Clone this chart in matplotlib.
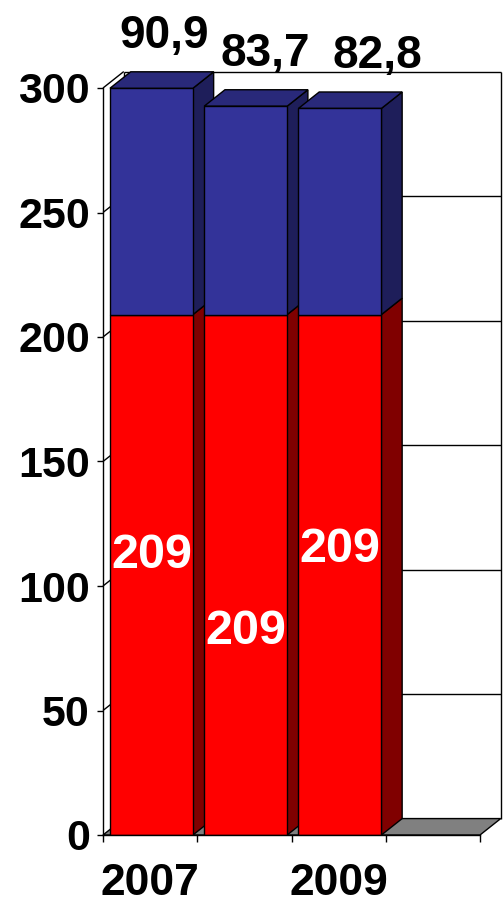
import matplotlib
matplotlib.use("Agg")
import matplotlib.pyplot as plt
from matplotlib.patches import Polygon

plt.rcParams["font.family"] = ["Liberation Sans", "DejaVu Sans"]
plt.rcParams["font.weight"] = "bold"

# data
years = ["2007", "2008", "2009"]
base = [209, 209, 209]
extra = [90.9, 83.7, 82.8]
extra_labels = ["90,9", "83,7", "82,8"]
yticks = [0, 50, 100, 150, 200, 250, 300]

# look
RED, RED_SIDE = "#ff0000", "#800000"
BLUE, BLUE_TOP, BLUE_SIDE = "#333399", "#29297a", "#1e1e5a"
DX, DY = 0.22, 6.6          # 3D depth in data units
X0, W = 0.074, 0.88         # bar start within slot, bar width
NSLOT = 4

fig = plt.figure(figsize=(5.04, 9.08), dpi=100)
ax = fig.add_axes([103 / 504, 73 / 908, 377 / 504, 747 / 908])
ax.set_xlim(0, NSLOT)
ax.set_ylim(0, 300)
ax.patch.set_visible(False)
for s in ("top", "right"):
    ax.spines[s].set_visible(False)
for s in ("left", "bottom"):
    ax.spines[s].set_linewidth(1.0)
    ax.spines[s].set_zorder(20)


def poly(pts, fc, z, ec="black", lw=1.0):
    ax.add_patch(Polygon(pts, closed=True, facecolor=fc, edgecolor=ec,
                         linewidth=lw, zorder=z, clip_on=False))


def line(xs, ys, z=1):
    ax.plot(xs, ys, color="black", lw=1.0, zorder=z, clip_on=False,
            solid_capstyle="butt")


# back wall, gridlines, floor
poly([(DX, DY), (NSLOT + DX, DY), (NSLOT + DX, 300 + DY), (DX, 300 + DY)],
     "white", 0.5, ec="none")
for v in yticks[1:]:
    line([DX, NSLOT + DX], [v + DY, v + DY])
    line([0, DX], [v, v + DY])
line([NSLOT + DX, NSLOT + DX], [DY, 300 + DY])
line([DX, DX], [DY, 300 + DY])
poly([(0, 0), (NSLOT, 0), (NSLOT + DX, DY), (DX, DY)], "#808080", 1.5)

# bars
for i, (b, e) in enumerate(zip(base, extra)):
    z = 3 + i
    x0 = i + X0
    x1 = x0 + W
    top = b + e
    # side faces
    poly([(x1, 0), (x1 + DX, DY), (x1 + DX, b + DY), (x1, b)], RED_SIDE, z)
    poly([(x1, b), (x1 + DX, b + DY), (x1 + DX, top + DY), (x1, top)], BLUE_SIDE, z)
    # top face
    poly([(x0, top), (x1, top), (x1 + DX, top + DY), (x0 + DX, top + DY)], BLUE_TOP, z)
    # front faces
    ax.bar(x0, b, width=W, align="edge", color=RED, edgecolor="black",
           linewidth=1.0, zorder=z + 0.1)
    ax.bar(x0, e, bottom=b, width=W, align="edge", color=BLUE,
           edgecolor="black", linewidth=1.0, zorder=z + 0.1)

# labels of the top segment (Excel nudges them sideways)
label_dx = [0.13, 0.21, 0.40]
for i, (b, e) in enumerate(zip(base, extra)):
    ax.annotate(extra_labels[i], (i + X0 + W / 2 + label_dx[i], b + e + DY),
                xytext=(0, 17), textcoords="offset points",
                ha="center", va="baseline", fontsize=33, zorder=20,
                annotation_clip=False)

# labels inside the red segment (staggered)
inner_dy = [14, -41, 18]
for i, b in enumerate(base):
    ax.annotate(str(b), (i + X0 + W / 2, b / 2), xytext=(0, inner_dy[i]),
                textcoords="offset points", ha="center", va="center",
                fontsize=35, color="white", zorder=20)

# axes ticks
ax.set_yticks(yticks)
ax.tick_params(axis="y", length=4.5, width=1.0, pad=5, labelsize=31)
ax.set_xticks(range(NSLOT + 1))
ax.set_xticklabels([])
ax.tick_params(axis="x", which="major", length=5, width=1.0)
ax.set_xticks([i + 0.5 for i in range(len(years))], minor=True)
ax.set_xticklabels([y if i % 2 == 0 else "" for i, y in enumerate(years)],
                   minor=True)
ax.tick_params(axis="x", which="minor", length=0, pad=20, labelsize=32)

fig.savefig("out.png", dpi=100)
